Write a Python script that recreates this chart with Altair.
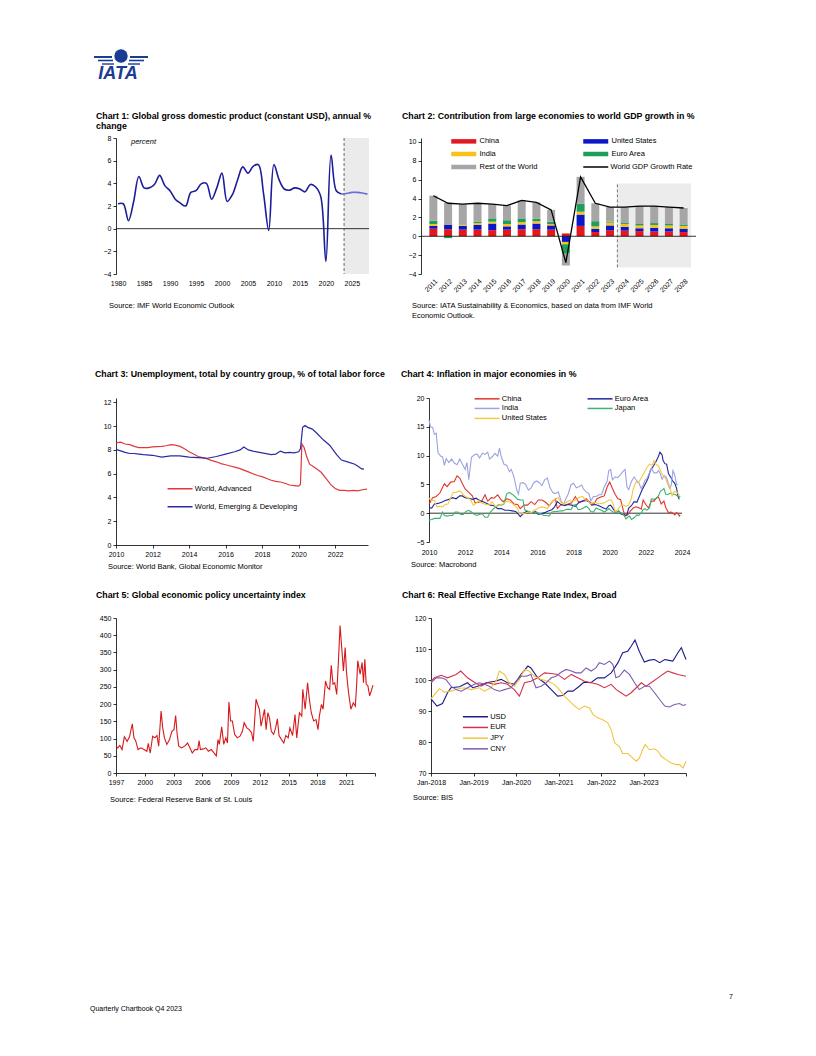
import altair as alt
import pandas as pd

FONT = "Liberation Sans"
FS = 7
NS = 7.5
BAR_SW = "M-5,-0.9H5V0.9H-5Z"
LINE_SW = "M-5,0H5"
ONE = pd.DataFrame({"k": [0]})

# ---------------- Chart 1 data ----------------
c1_years = list(range(1980, 2024))
c1_gdp = [2.2, 2.2, 0.7, 2.4, 4.6, 3.6, 3.6, 3.9, 4.7, 3.8, 3.35, 2.6, 2.25, 2.0, 3.2,
          3.35, 3.95, 4.0, 2.6, 3.6, 4.9, 2.4, 3.0, 4.3, 5.45, 4.9, 5.5, 5.65, 3.1, -0.15,
          5.65, 4.3, 3.5, 3.4, 3.6, 3.5, 3.25, 3.9, 3.7, 2.85, -2.9, 6.5, 3.35, 3.05]
c1_fc_years = [2023, 2024, 2025, 2026, 2027, 2028]
c1_fc = [3.05, 3.1, 3.2, 3.2, 3.15, 3.05]

# ---------------- Chart 2 data ----------------
c2_years = list(range(2011, 2029))
c2_china = [0.8, 0.75, 0.7, 0.7, 0.65, 0.7, 0.75, 0.75, 0.7, 0.3, 1.1, 0.45, 0.65, 0.6, 0.55, 0.5, 0.5, 0.45]
c2_us = [0.3, 0.5, 0.4, 0.5, 0.7, 0.35, 0.5, 0.6, 0.45, -0.6, 1.2, 0.35, 0.5, 0.4, 0.3, 0.4, 0.35, 0.35]
c2_india = [0.2, 0.05, 0.1, 0.2, 0.2, 0.25, 0.25, 0.25, 0.15, -0.25, 0.3, 0.25, 0.3, 0.3, 0.3, 0.3, 0.3, 0.3]
c2_euro = [0.35, -0.2, 0.05, 0.15, 0.35, 0.4, 0.4, 0.25, 0.25, -1.0, 0.85, 0.55, 0.1, 0.1, 0.15, 0.2, 0.15, 0.15]
c2_row = [2.65, 2.25, 2.15, 1.95, 1.5, 1.55, 1.9, 1.75, 1.25, -1.25, 2.85, 1.9, 1.55, 1.7, 1.9, 1.8, 1.8, 1.75]
c2_world = [4.3, 3.5, 3.4, 3.5, 3.4, 3.25, 3.8, 3.6, 2.8, -2.8, 6.3, 3.5, 3.1, 3.1, 3.2, 3.2, 3.1, 3.0]
c2_names = ["China", "United States", "India", "Euro Area", "Rest of the World"]
c2_colors = ["#e3181f", "#0b16c9", "#f6c21b", "#1e9e5a", "#a6a6a6"]
c2_legend_order = ["China", "India", "Rest of the World", "United States", "Euro Area"]

# ---------------- Chart 3 data ----------------
c3_adv_x = [2010.0, 2010.25, 2010.5, 2010.75, 2011.0, 2011.25, 2011.5, 2011.75, 2012.0, 2012.5, 2012.75,
            2013.0, 2013.25, 2013.5, 2013.75, 2014.0, 2014.25, 2014.5, 2014.75, 2015.0, 2015.25, 2015.5,
            2015.75, 2016.0, 2016.25, 2016.5, 2016.75, 2017.0, 2017.25, 2017.5, 2017.75, 2018.0, 2018.25,
            2018.5, 2018.75, 2019.0, 2019.25, 2019.5, 2019.75, 2020.0, 2020.1, 2020.18, 2020.3, 2020.45,
            2020.6, 2020.8, 2021.0, 2021.25, 2021.5, 2021.75, 2022.0, 2022.25, 2022.5, 2022.75, 2023.0,
            2023.25, 2023.5, 2023.75]
c3_adv = [8.6, 8.65, 8.5, 8.45, 8.3, 8.2, 8.2, 8.2, 8.25, 8.3, 8.35, 8.45, 8.4, 8.3, 8.1, 7.85, 7.65,
          7.45, 7.35, 7.25, 7.1, 7.0, 6.85, 6.75, 6.65, 6.55, 6.45, 6.3, 6.15, 6.0, 5.85, 5.75, 5.6,
          5.45, 5.35, 5.3, 5.2, 5.05, 5.0, 4.95, 5.1, 8.5, 8.2, 7.4, 6.8, 6.6, 6.4, 6.1, 5.6, 5.1,
          4.75, 4.6, 4.6, 4.55, 4.6, 4.55, 4.65, 4.7]
c3_emg_x = [2010.0, 2010.5, 2010.75, 2011.0, 2011.25, 2011.5, 2012.0, 2012.5, 2013.0, 2013.5, 2014.0,
            2014.5, 2015.0, 2015.5, 2016.0, 2016.5, 2016.8, 2017.0, 2017.25, 2017.5, 2018.0, 2018.5,
            2018.75, 2019.0, 2019.25, 2019.5, 2019.75, 2020.0, 2020.1, 2020.22, 2020.35, 2020.5, 2020.75,
            2021.0, 2021.35, 2021.7, 2022.08, 2022.35, 2022.72, 2023.08, 2023.27, 2023.45, 2023.58]
c3_emg = [8.05, 7.8, 7.7, 7.7, 7.65, 7.6, 7.55, 7.4, 7.5, 7.5, 7.4, 7.35, 7.3, 7.45, 7.65, 7.85, 8.0,
          8.25, 8.0, 7.9, 7.75, 7.6, 7.65, 7.9, 7.75, 7.8, 7.75, 7.85, 8.1, 9.9, 10.05, 9.9, 9.75,
          9.4, 8.85, 8.4, 7.6, 7.15, 6.97, 6.8, 6.6, 6.4, 6.38]
c3_names = ["World, Advanced", "World, Emerging & Developing"]

# ---------------- Chart 4 data ----------------
c4_china_x = [2010.0, 2010.2, 2010.4, 2010.6, 2010.85, 2011.0, 2011.2, 2011.4, 2011.55, 2011.7, 2011.85,
              2012.0, 2012.2, 2012.4, 2012.55, 2012.75, 2012.9, 2013.1, 2013.25, 2013.45, 2013.6, 2013.8,
              2013.95, 2014.1, 2014.3, 2014.5, 2014.7, 2014.9, 2015.05, 2015.25, 2015.45, 2015.65, 2015.85,
              2016.05, 2016.25, 2016.45, 2016.65, 2016.85, 2017.0, 2017.1, 2017.3, 2017.5, 2017.7, 2017.9,
              2018.1, 2018.3, 2018.5, 2018.7, 2018.9, 2019.1, 2019.3, 2019.5, 2019.7, 2019.85, 2020.0,
              2020.15, 2020.3, 2020.45, 2020.6, 2020.75, 2020.85, 2021.0, 2021.15, 2021.3, 2021.45, 2021.6,
              2021.75, 2021.85, 2022.0, 2022.15, 2022.3, 2022.45, 2022.6, 2022.7, 2022.85, 2023.0, 2023.1,
              2023.25, 2023.4, 2023.5, 2023.6, 2023.7, 2023.8, 2023.85, 2023.9]
c4_china = [1.5, 2.7, 2.9, 3.5, 5.1, 4.6, 5.4, 5.5, 6.5, 6.1, 5.1, 4.2, 3.6, 3.0, 1.8, 1.9, 2.0, 3.2, 2.1,
            2.7, 2.6, 3.2, 2.5, 2.0, 2.5, 2.3, 1.6, 1.5, 0.8, 1.4, 1.4, 2.0, 1.5, 2.3, 2.3, 1.9, 1.3,
            2.1, 2.5, 0.8, 1.5, 1.4, 1.6, 1.8, 2.9, 1.8, 2.1, 2.5, 1.9, 1.5, 2.5, 2.8, 3.0, 4.5, 5.4,
            4.3, 3.3, 2.5, 2.4, 0.5, -0.5, -0.3, 0.4, 0.9, 1.1, 1.0, 0.7, 2.3, 1.5, 0.9, 2.1, 2.1, 2.7,
            2.8, 1.6, 2.1, 1.0, 0.1, 0.2, 0.0, -0.3, 0.1, -0.2, -0.5, -0.3]
c4_euro_x = [2010.0, 2010.15, 2010.3, 2010.5, 2010.7, 2010.9, 2011.1, 2011.3, 2011.5, 2011.7, 2011.85,
             2012.0, 2012.2, 2012.4, 2012.6, 2012.8, 2013.0, 2013.2, 2013.4, 2013.6, 2013.8, 2014.0,
             2014.2, 2014.4, 2014.6, 2014.8, 2014.95, 2015.05, 2015.2, 2015.4, 2015.6, 2015.75, 2015.9,
             2016.05, 2016.2, 2016.4, 2016.6, 2016.8, 2016.95, 2017.1, 2017.3, 2017.5, 2017.7, 2017.9,
             2018.1, 2018.3, 2018.5, 2018.7, 2018.85, 2019.0, 2019.2, 2019.4, 2019.6, 2019.8, 2019.95,
             2020.05, 2020.2, 2020.35, 2020.5, 2020.65, 2020.8, 2020.95, 2021.05, 2021.2, 2021.35, 2021.5,
             2021.65, 2021.8, 2021.95, 2022.1, 2022.25, 2022.4, 2022.55, 2022.7, 2022.78, 2022.9, 2022.95,
             2023.05, 2023.15, 2023.25, 2023.4, 2023.5, 2023.6, 2023.7, 2023.78, 2023.85]
c4_euro = [1.0, 0.9, 1.6, 1.7, 1.9, 2.2, 2.4, 2.7, 2.5, 3.0, 3.0, 2.7, 2.6, 2.4, 2.6, 2.2, 2.0, 1.7, 1.4,
           1.3, 0.8, 0.8, 0.5, 0.5, 0.4, 0.3, -0.2, -0.6, -0.1, 0.3, 0.1, 0.1, 0.3, -0.2, -0.1, 0.1, 0.4,
           0.6, 1.1, 2.0, 1.5, 1.3, 1.5, 1.4, 1.2, 1.9, 2.1, 2.2, 2.0, 1.4, 1.5, 1.3, 1.0, 0.7, 1.3, 1.4,
           0.7, 0.1, 0.4, -0.2, -0.3, -0.3, 0.9, 1.3, 2.0, 1.9, 3.0, 4.1, 5.0, 5.9, 7.4, 8.1, 8.9, 9.9,
           10.6, 10.1, 9.2, 8.6, 8.5, 6.9, 6.1, 5.5, 5.2, 4.3, 2.9, 2.4]
c4_india_x = [2010.0, 2010.08, 2010.2, 2010.3, 2010.4, 2010.5, 2010.65, 2010.75, 2010.85, 2010.95, 2011.1,
              2011.25, 2011.4, 2011.55, 2011.7, 2011.85, 2012.0, 2012.1, 2012.2, 2012.35, 2012.5, 2012.65,
              2012.8, 2012.95, 2013.1, 2013.25, 2013.35, 2013.5, 2013.65, 2013.8, 2013.9, 2014.0, 2014.15,
              2014.3, 2014.45, 2014.55, 2014.7, 2014.85, 2014.95, 2015.05, 2015.2, 2015.35, 2015.5, 2015.65,
              2015.8, 2015.95, 2016.1, 2016.25, 2016.4, 2016.55, 2016.7, 2016.85, 2017.0, 2017.15, 2017.3,
              2017.45, 2017.55, 2017.7, 2017.85, 2018.0, 2018.15, 2018.3, 2018.45, 2018.55, 2018.7, 2018.85,
              2018.95, 2019.1, 2019.25, 2019.4, 2019.55, 2019.7, 2019.85, 2019.95, 2020.05, 2020.15, 2020.3,
              2020.45, 2020.6, 2020.75, 2020.85, 2020.95, 2021.05, 2021.2, 2021.35, 2021.5, 2021.6, 2021.75,
              2021.85, 2021.95, 2022.05, 2022.2, 2022.3, 2022.45, 2022.6, 2022.7, 2022.8, 2022.9, 2023.0,
              2023.1, 2023.2, 2023.3, 2023.4, 2023.5, 2023.58, 2023.7, 2023.78]
c4_india = [16.2, 15.0, 14.9, 13.7, 13.9, 10.5, 9.9, 9.8, 8.3, 9.5, 8.8, 9.4, 8.7, 8.4, 9.4, 8.5, 7.6,
            8.8, 5.8, 9.7, 10.1, 10.3, 9.6, 10.4, 10.2, 10.6, 9.4, 9.8, 10.4, 9.9, 11.3, 9.8, 8.5, 8.3,
            7.2, 7.6, 6.3, 4.1, 3.3, 5.2, 5.3, 5.0, 4.0, 4.4, 5.3, 5.6, 5.3, 4.8, 5.8, 6.1, 4.4, 3.6,
            3.4, 3.7, 2.2, 1.5, 2.4, 3.3, 4.9, 5.2, 4.4, 4.6, 4.9, 4.2, 3.7, 3.4, 2.1, 2.9, 2.9, 3.2,
            3.2, 4.6, 5.5, 7.4, 7.6, 5.8, 6.3, 6.2, 6.7, 7.3, 7.6, 4.6, 4.1, 5.5, 6.3, 5.6, 5.3, 4.3,
            4.9, 5.7, 6.0, 7.0, 7.8, 7.0, 7.0, 7.4, 6.8, 5.9, 6.5, 6.4, 5.7, 4.3, 4.8, 7.4, 6.8, 5.0, 4.9]
c4_jp_x = [2010.0, 2010.15, 2010.3, 2010.45, 2010.6, 2010.75, 2010.85, 2011.0, 2011.15, 2011.3, 2011.45,
           2011.6, 2011.75, 2011.9, 2012.05, 2012.2, 2012.35, 2012.5, 2012.65, 2012.8, 2012.95, 2013.1,
           2013.25, 2013.4, 2013.55, 2013.7, 2013.85, 2014.0, 2014.15, 2014.3, 2014.45, 2014.6, 2014.75,
           2014.9, 2015.05, 2015.2, 2015.3, 2015.45, 2015.6, 2015.75, 2015.9, 2016.05, 2016.2, 2016.35,
           2016.5, 2016.65, 2016.8, 2016.95, 2017.1, 2017.25, 2017.4, 2017.55, 2017.7, 2017.85, 2018.0,
           2018.1, 2018.25, 2018.4, 2018.55, 2018.7, 2018.85, 2018.95, 2019.1, 2019.25, 2019.4, 2019.55,
           2019.7, 2019.85, 2019.95, 2020.1, 2020.25, 2020.35, 2020.5, 2020.65, 2020.8, 2020.9, 2021.0,
           2021.1, 2021.2, 2021.35, 2021.5, 2021.6, 2021.75, 2021.85, 2021.95, 2022.05, 2022.2, 2022.3,
           2022.45, 2022.6, 2022.7, 2022.8, 2022.9, 2023.0, 2023.1, 2023.2, 2023.35, 2023.45, 2023.55,
           2023.65, 2023.75, 2023.85, 2023.9]
c4_jp = [-1.2, -1.1, -0.9, -0.9, -0.9, 0.2, -0.4, -0.5, -0.4, -0.4, 0.2, 0.2, -0.2, -0.2, 0.3, 0.5, 0.2,
         -0.2, -0.4, -0.2, -0.1, -0.7, -0.7, 0.2, 0.7, 1.1, 1.5, 1.4, 1.6, 3.4, 3.6, 3.3, 2.9, 2.4, 2.3,
         2.3, 0.6, 0.4, 0.2, 0.0, 0.2, 0.0, -0.1, -0.4, -0.4, -0.5, 0.2, 0.3, 0.3, 0.4, 0.4, 0.6, 0.7,
         0.6, 1.4, 1.5, 0.6, 0.7, 0.9, 1.2, 0.8, 0.3, 0.2, 0.9, 0.7, 0.5, 0.2, 0.5, 0.8, 0.4, 0.1, 0.1,
         0.3, 0.0, -0.4, -1.0, -0.7, -0.5, -1.1, -0.8, -0.3, -0.4, 0.1, 0.6, 0.8, 0.5, 0.9, 2.5, 2.4,
         2.6, 3.0, 3.8, 4.0, 4.3, 3.3, 3.2, 3.5, 3.3, 3.3, 3.2, 3.0, 2.8, 3.0]
c4_us_x = [2010.0, 2010.15, 2010.3, 2010.45, 2010.6, 2010.75, 2010.9, 2011.05, 2011.2, 2011.35, 2011.5,
           2011.7, 2011.85, 2012.0, 2012.15, 2012.3, 2012.45, 2012.6, 2012.75, 2012.9, 2013.05, 2013.2,
           2013.35, 2013.5, 2013.65, 2013.8, 2013.95, 2014.1, 2014.3, 2014.45, 2014.6, 2014.75, 2014.9,
           2015.0, 2015.15, 2015.3, 2015.5, 2015.65, 2015.8, 2015.95, 2016.1, 2016.25, 2016.4, 2016.55,
           2016.7, 2016.85, 2017.0, 2017.15, 2017.3, 2017.45, 2017.6, 2017.75, 2017.9, 2018.05, 2018.2,
           2018.35, 2018.5, 2018.65, 2018.8, 2018.95, 2019.1, 2019.25, 2019.4, 2019.55, 2019.7, 2019.85,
           2019.95, 2020.1, 2020.2, 2020.3, 2020.45, 2020.6, 2020.75, 2020.9, 2021.05, 2021.2, 2021.3,
           2021.45, 2021.6, 2021.75, 2021.9, 2022.05, 2022.2, 2022.35, 2022.45, 2022.55, 2022.7, 2022.85,
           2022.95, 2023.1, 2023.2, 2023.3, 2023.45, 2023.55, 2023.7, 2023.85]
c4_us = [2.6, 2.2, 2.2, 1.1, 1.2, 1.1, 1.5, 1.6, 2.7, 3.6, 3.6, 3.9, 3.4, 2.9, 2.7, 2.3, 1.4, 1.7, 2.2,
         1.8, 1.6, 1.5, 1.4, 2.0, 1.2, 1.2, 1.5, 1.6, 2.1, 2.0, 1.7, 1.3, 0.8, -0.1, -0.1, 0.0, 0.2,
         0.0, 0.5, 0.7, 1.0, 1.1, 1.0, 0.8, 1.6, 2.1, 2.5, 2.7, 1.9, 1.6, 1.9, 2.2, 2.1, 2.2, 2.5, 2.8,
         2.9, 2.3, 2.2, 1.6, 1.9, 1.8, 1.6, 1.7, 1.8, 2.1, 2.3, 2.3, 1.5, 0.3, 0.6, 1.3, 1.4, 1.2, 1.4,
         2.6, 4.2, 5.4, 5.3, 6.2, 7.0, 7.9, 8.5, 8.3, 9.1, 8.5, 8.2, 7.1, 6.5, 6.0, 5.0, 4.9, 3.0, 3.7,
         3.7, 3.2]
c4_names = ["China", "Euro Area", "India", "Japan", "United States"]
c4_colors = {"China": "#e0352b", "Euro Area": "#1f2a9a", "India": "#9ca3e0",
             "Japan": "#3cb371", "United States": "#f5c842"}
c4_legend_order = ["China", "India", "United States", "Euro Area", "Japan"]

# ---------------- Chart 5 data ----------------
c5_x = [1997.0, 1997.18, 1997.39, 1997.63, 1997.87, 1998.16, 1998.41, 1998.7, 1998.87, 1999.05, 1999.3,
        1999.58, 1999.93, 2000.22, 2000.36, 2000.57, 2000.82, 2001.06, 2001.27, 2001.45, 2001.7, 2001.87,
        2002.05, 2002.3, 2002.58, 2002.83, 2003.04, 2003.22, 2003.36, 2003.54, 2003.82, 2004.17, 2004.46,
        2004.7, 2004.95, 2005.23, 2005.52, 2005.66, 2005.8, 2006.12, 2006.36, 2006.64, 2006.93, 2007.17,
        2007.46, 2007.63, 2007.77, 2008.02, 2008.23, 2008.45, 2008.62, 2008.77, 2008.95, 2009.13, 2009.37,
        2009.65, 2009.93, 2010.18, 2010.36, 2010.64, 2010.89, 2011.13, 2011.31, 2011.6, 2011.77, 2011.95,
        2012.12, 2012.3, 2012.48, 2012.65, 2012.83, 2013.0, 2013.19, 2013.43, 2013.64, 2013.82, 2014.0,
        2014.25, 2014.49, 2014.7, 2014.95, 2015.13, 2015.41, 2015.66, 2015.84, 2016.12, 2016.37, 2016.47,
        2016.72, 2016.97, 2017.18, 2017.36, 2017.6, 2017.85, 2018.06, 2018.2, 2018.42, 2018.59, 2018.84,
        2019.05, 2019.27, 2019.44, 2019.62, 2019.8, 2020.01, 2020.18, 2020.36, 2020.54, 2020.71, 2020.89,
        2021.03, 2021.24, 2021.49, 2021.74, 2021.95, 2022.09, 2022.2, 2022.45, 2022.66, 2022.8, 2022.94,
        2023.08, 2023.26, 2023.44, 2023.61, 2023.79]
c5_epu = [78, 73, 80, 68, 105, 92, 105, 143, 102, 94, 68, 73, 68, 63, 86, 58, 107, 102, 109, 78, 180,
          131, 102, 83, 97, 121, 126, 167, 117, 78, 73, 78, 87, 73, 58, 68, 68, 94, 68, 70, 73, 63, 68,
          60, 50, 97, 83, 134, 83, 102, 87, 206, 151, 151, 112, 102, 107, 121, 146, 131, 126, 117, 92,
          214, 199, 185, 136, 160, 185, 126, 175, 160, 121, 112, 131, 157, 109, 97, 87, 109, 102, 131,
          109, 170, 102, 175, 165, 243, 185, 262, 209, 175, 151, 155, 126, 165, 199, 185, 267, 248, 243,
          313, 258, 262, 228, 321, 428, 360, 296, 364, 292, 233, 185, 204, 194, 258, 326, 287, 321, 262,
          330, 258, 253, 224, 238, 255]

# ---------------- Chart 6 data ----------------
c6_usd_x = [2018.0, 2018.14, 2018.27, 2018.39, 2018.47, 2018.67, 2018.86, 2018.98, 2019.1, 2019.3, 2019.5,
            2019.65, 2019.8, 2019.96, 2020.12, 2020.28, 2020.35, 2020.51, 2020.67, 2020.83, 2020.98, 2021.1,
            2021.22, 2021.34, 2021.49, 2021.6, 2021.76, 2021.92, 2022.08, 2022.24, 2022.4, 2022.51, 2022.63,
            2022.71, 2022.8, 2022.9, 2023.02, 2023.14, 2023.26, 2023.38, 2023.5, 2023.57, 2023.69, 2023.81,
            2023.89, 2024.0]
c6_usd = [93.9, 91.6, 92.4, 95.9, 97.5, 97.8, 99.1, 97.5, 98.0, 99.1, 99.6, 100.2, 99.1, 98.6, 101.8,
          104.5, 103.9, 100.7, 99.1, 96.9, 94.8, 95.0, 96.4, 96.4, 98.0, 99.3, 99.1, 100.7, 100.7, 102.3,
          105.6, 108.8, 109.3, 110.9, 112.9, 109.3, 105.8, 106.4, 106.6, 105.6, 106.6, 106.4, 106.1,
          108.8, 110.4, 106.6]
c6_eur_x = [2018.0, 2018.08, 2018.24, 2018.39, 2018.59, 2018.7, 2018.86, 2019.02, 2019.18, 2019.33, 2019.49,
            2019.65, 2019.8, 2019.96, 2020.08, 2020.2, 2020.35, 2020.51, 2020.67, 2020.83, 2020.98, 2021.14,
            2021.3, 2021.45, 2021.61, 2021.77, 2021.92, 2022.08, 2022.24, 2022.36, 2022.47, 2022.59, 2022.71,
            2022.83, 2022.95, 2023.06, 2023.18, 2023.34, 2023.45, 2023.57, 2023.69, 2023.81, 2024.0]
c6_eur = [99.6, 100.7, 101.5, 100.7, 101.8, 102.9, 100.7, 99.3, 98.0, 99.1, 98.6, 99.1, 98.6, 96.9, 94.8,
          99.1, 99.6, 100.7, 102.3, 102.1, 101.8, 100.2, 101.8, 100.7, 99.6, 99.1, 98.6, 97.5, 98.6, 96.9,
          95.9, 94.8, 95.9, 97.5, 99.1, 98.0, 99.1, 100.7, 101.8, 102.9, 102.3, 101.8, 101.2]
c6_jpy_x = [2018.0, 2018.08, 2018.2, 2018.31, 2018.47, 2018.63, 2018.78, 2018.94, 2019.14, 2019.25, 2019.41,
            2019.53, 2019.61, 2019.73, 2019.84, 2019.96, 2020.08, 2020.2, 2020.31, 2020.43, 2020.59, 2020.75,
            2020.9, 2021.02, 2021.14, 2021.26, 2021.38, 2021.49, 2021.61, 2021.73, 2021.81, 2021.92, 2022.04,
            2022.16, 2022.24, 2022.32, 2022.43, 2022.51, 2022.63, 2022.75, 2022.83, 2022.9, 2022.98, 2023.04,
            2023.14, 2023.26, 2023.34, 2023.42, 2023.53, 2023.65, 2023.77, 2023.85, 2023.93, 2024.0]
c6_jpy = [93.9, 95.3, 97.2, 96.1, 96.4, 97.2, 97.5, 96.9, 97.5, 96.4, 97.5, 99.6, 102.9, 101.8, 99.1,
          98.0, 100.2, 103.4, 102.9, 101.2, 100.2, 99.6, 98.6, 96.9, 94.8, 93.2, 91.6, 90.5, 91.6, 91.0,
          88.9, 87.8, 87.2, 86.2, 84.0, 79.7, 78.6, 76.3, 76.3, 74.8, 73.8, 74.8, 77.5, 79.2, 77.5, 77.8,
          77.0, 75.4, 74.3, 73.2, 72.7, 72.7, 71.6, 73.8]
c6_cny_x = [2018.0, 2018.12, 2018.24, 2018.35, 2018.47, 2018.59, 2018.71, 2018.86, 2019.02, 2019.14,
            2019.26, 2019.37, 2019.49, 2019.61, 2019.73, 2019.88, 2020.0, 2020.12, 2020.24, 2020.35, 2020.47,
            2020.59, 2020.71, 2020.83, 2020.94, 2021.06, 2021.18, 2021.3, 2021.41, 2021.53, 2021.65, 2021.77,
            2021.88, 2021.96, 2022.08, 2022.2, 2022.28, 2022.35, 2022.43, 2022.55, 2022.67, 2022.79, 2022.9,
            2023.02, 2023.14, 2023.26, 2023.38, 2023.5, 2023.61, 2023.73, 2023.85, 2023.93, 2024.0]
c6_cny = [99.1, 100.7, 100.7, 100.2, 98.0, 96.9, 96.4, 97.5, 98.6, 99.1, 98.6, 98.0, 96.9, 96.4, 96.9,
          97.5, 99.6, 101.2, 101.2, 101.8, 97.5, 98.0, 99.1, 100.7, 101.2, 102.5, 103.4, 102.9, 102.3,
          102.3, 103.9, 102.9, 103.9, 105.6, 105.0, 106.1, 105.0, 100.7, 101.2, 103.2, 101.8, 99.1, 96.9,
          98.0, 98.0, 95.9, 93.7, 91.6, 91.3, 92.1, 92.4, 91.8, 92.1]
c6_names = ["USD", "EUR", "JPY", "CNY"]
c6_colors = ["#1c1c8c", "#d6304a", "#f2c53d", "#7f5cb0"]


def note(text, x, y, baseline="middle", **kw):
    return alt.Chart(ONE).mark_text(text=text, align="left", baseline=baseline, fontSize=NS,
                                    font=FONT, color="#000", lineHeight=10, **kw).encode(
        x=alt.value(x), y=alt.value(y))


def long_df(xs_list, ys_list, names):
    rows = []
    for xs, ys, n in zip(xs_list, ys_list, names):
        for a, b in zip(xs, ys):
            rows.append({"x": a, "v": b, "s": n})
    return pd.DataFrame(rows)


def yaxis(vals, **kw):
    return alt.Axis(values=vals, domain=True, ticks=True, tickSize=3, labelPadding=2, grid=False,
                    labelFlush=False, labelOverlap=False, **kw)


def xaxis(vals, domain, ticks, pad, **kw):
    return alt.Axis(values=vals, domain=domain, ticks=ticks, tickSize=3, labelPadding=pad, grid=False,
                    labelFlush=False, labelOverlap=False, **kw)


def line_legend(x, y, **kw):
    return alt.Legend(orient="none", legendX=x, legendY=y, title=None, symbolType=LINE_SW,
                      symbolSize=25, symbolStrokeWidth=1.5, labelOffset=11, **kw)


def sx(field, scale, axis):
    return alt.X(field, type="quantitative", scale=scale, axis=axis, title=None)


def sy(field, scale, axis):
    return alt.Y(field, type="quantitative", scale=scale, axis=axis, title=None)


# ---------------- Chart 1 ----------------
X1 = alt.Scale(domain=[1979.6, 2028.3], nice=False, zero=False)
Y1 = alt.Scale(domain=[-4, 8], nice=False, zero=False)
AX1 = xaxis(list(range(1980, 2030, 5)), False, False, 5, format="d")
AY1 = yaxis(list(range(-4, 10, 2)))
hist1 = alt.Chart(pd.DataFrame({"x": c1_years, "v": c1_gdp})).mark_line(
    interpolate="catmull-rom", color="#1d1d9b", strokeWidth=1.6).encode(
    x=sx("x", X1, AX1), y=sy("v", Y1, AY1))
rect1 = alt.Chart(pd.DataFrame({"x": [2023.5], "b": [2028.3], "v": [-4], "d": [8]})).mark_rect(
    color="#ebebeb").encode(x=sx("x", X1, AX1), x2="b:Q", y=sy("v", Y1, AY1), y2="d:Q")
zero1 = alt.Chart(pd.DataFrame({"v": [0]})).mark_rule(color="#000", strokeWidth=0.8).encode(
    y=sy("v", Y1, AY1))
dash1 = alt.Chart(pd.DataFrame({"x": [2023.5]})).mark_rule(color="#444", strokeDash=[3, 2],
                                                          strokeWidth=0.8).encode(x=sx("x", X1, AX1))
fc1 = alt.Chart(pd.DataFrame({"x": c1_fc_years, "v": c1_fc})).mark_line(
    interpolate="catmull-rom", color="#6b6bdc", strokeWidth=1.6).encode(
    x=sx("x", X1, AX1), y=sy("v", Y1, AY1))
c1 = alt.layer(rect1, zero1, dash1, hist1, fc1,
               note("percent", 15, 4, fontStyle="italic"),
               note("Source: IMF World Economic Outlook", -7, 168)).properties(
    width=253, height=136,
    title=alt.TitleParams(["Chart 1: Global gross domestic product (constant USD), annual %", "change"],
                          dx=-20, offset=3, lineHeight=10.7))

# ---------------- Chart 2 ----------------
X2 = alt.Scale(domain=[2010.5, 2028.5], nice=False, zero=False)
Y2 = alt.Scale(domain=[-4, 10.42], nice=False, zero=False)
AX2 = xaxis(c2_years, False, False, 3, format="d", labelAngle=315)
AY2 = yaxis(list(range(-4, 12, 2)))
rows2 = []
for i, (n, vals) in enumerate(zip(c2_names, [c2_china, c2_us, c2_india, c2_euro, c2_row])):
    for yr, v in zip(c2_years, vals):
        rows2.append({"x": yr, "v": v, "s": n, "o": i})
df2 = pd.DataFrame(rows2)
bars2 = alt.Chart(df2).mark_bar(width=8).encode(
    x=sx("x", X2, AX2),
    y=alt.Y("v:Q", scale=Y2, stack="zero", title=None, axis=AY2),
    color=alt.Color("s:N", scale=alt.Scale(domain=c2_legend_order,
                                           range=[c2_colors[c2_names.index(n)] for n in c2_legend_order]),
                    legend=alt.Legend(orient="none", legendX=39, legendY=-0.75, columns=2, title=None,
                                      symbolType=BAR_SW, symbolSize=25, symbolStrokeWidth=0,
                                      labelOffset=12, columnPadding=45, rowPadding=4)),
    order=alt.Order("o:Q"))
rect2 = alt.Chart(pd.DataFrame({"x": [2023.5], "b": [2028.5], "v": [-3.3], "d": [5.6]})).mark_rect(
    color="#ececec").encode(x=sx("x", X2, AX2), x2="b:Q", y=sy("v", Y2, AY2), y2="d:Q")
dash2 = alt.Chart(pd.DataFrame({"x": [2023.5], "v": [-3.3], "d": [5.6]})).mark_rule(
    color="#555", strokeDash=[3, 2], strokeWidth=0.8).encode(
    x=sx("x", X2, AX2), y=sy("v", Y2, AY2), y2="d:Q")
zero2 = alt.Chart(pd.DataFrame({"v": [0]})).mark_rule(color="#000", strokeWidth=0.8).encode(
    y=sy("v", Y2, AY2))
line2 = alt.Chart(pd.DataFrame({"x": c2_years, "v": c2_world, "s": ["World GDP Growth Rate"] * 18})).mark_line(
    strokeWidth=1.3).encode(
    x=sx("x", X2, AX2), y=sy("v", Y2, AY2),
    color=alt.Color("s:N", scale=alt.Scale(domain=["World GDP Growth Rate"], range=["#000000"]),
                    legend=line_legend(171, 25.25)))
c2 = alt.layer(rect2, dash2, bars2, zero2, line2,
               note(["Source: IATA Sustainability & Economics, based on data from IMF World",
                     "Economic Outlook."], -9, 164.25, baseline="top")).resolve_scale(
    color="independent").properties(
    width=275, height=136,
    title=alt.TitleParams("Chart 2: Contribution from large economies to world GDP growth in %",
                          dx=-19, offset=16.6))

# ---------------- Chart 3 ----------------
X3 = alt.Scale(domain=[2010, 2023.8], nice=False, zero=False)
Y3 = alt.Scale(domain=[0, 12.37], nice=False, zero=False)
AX3 = xaxis(list(range(2010, 2024, 2)), True, True, 2, format="d")
AY3 = yaxis(list(range(0, 14, 2)))
df3 = long_df([c3_adv_x, c3_emg_x], [c3_adv, c3_emg], c3_names)
c3 = alt.layer(
    alt.Chart(df3).mark_line(strokeWidth=1.2).encode(
        x=sx("x", X3, AX3), y=sy("v", Y3, AY3),
        color=alt.Color("s:N", scale=alt.Scale(domain=c3_names, range=["#e0393b", "#2a2aa5"]),
                        legend=line_legend(60.3, 87, rowPadding=9))),
    note("Source: World Bank, Global Economic Monitor", -8, 168.7)).properties(
    width=252, height=147,
    title=alt.TitleParams("Chart 3: Unemployment, total by country group, % of total labor force",
                          dx=-21, offset=19.3))

# ---------------- Chart 4 ----------------
X4 = alt.Scale(domain=[2010, 2024], nice=False, zero=False)
Y4 = alt.Scale(domain=[-5, 20], nice=False, zero=False)
AX4 = xaxis(list(range(2010, 2026, 2)), False, False, 6, format="d")
AY4 = yaxis(list(range(-5, 25, 5)))
df4 = long_df([c4_china_x, c4_euro_x, c4_india_x, c4_jp_x, c4_us_x],
              [c4_china, c4_euro, c4_india, c4_jp, c4_us], c4_names)
lines4 = alt.Chart(df4).mark_line(strokeWidth=1.1).encode(
    x=sx("x", X4, AX4), y=sy("v", Y4, AY4),
    color=alt.Color("s:N", scale=alt.Scale(domain=c4_legend_order,
                                           range=[c4_colors[n] for n in c4_legend_order]),
                    legend=line_legend(54.3, -3.3, columns=2, columnPadding=37, rowPadding=1)))
zero4 = alt.Chart(pd.DataFrame({"v": [0]})).mark_rule(color="#000", strokeWidth=0.8).encode(
    y=sy("v", Y4, AY4))
c4 = alt.layer(zero4, lines4, note("Source: Macrobond", -18, 166.7)).properties(
    width=253, height=144,
    title=alt.TitleParams("Chart 4: Inflation in major economies in %", dx=-28, offset=15.7))

# ---------------- Chart 5 ----------------
X5 = alt.Scale(domain=[1997, 2024], nice=False, zero=False)
Y5 = alt.Scale(domain=[0, 450], nice=False, zero=False)
AX5 = xaxis(list(range(1997, 2025, 3)), True, True, 2, format="d",
            labelExpr="datum.value >= 2024 ? '' : datum.label")
AY5 = yaxis(list(range(0, 500, 50)))
c5 = alt.layer(
    alt.Chart(pd.DataFrame({"x": c5_x, "v": c5_epu})).mark_line(color="#d7191c", strokeWidth=1.1).encode(
        x=sx("x", X5, AX5), y=sy("v", Y5, AY5)),
    note("Source: Federal Reserve Bank of St. Louis", -6, 181.5)).properties(
    width=259, height=155,
    title=alt.TitleParams("Chart 5: Global economic policy uncertainty index", dx=-20, offset=14.6))

# ---------------- Chart 6 ----------------
X6 = alt.Scale(domain=[2018, 2024], nice=False, zero=False)
Y6 = alt.Scale(domain=[70, 120], nice=False, zero=False)
AX6 = xaxis(list(range(2018, 2025)), True, True, 2,
            labelExpr="datum.value >= 2024 ? '' : 'Jan-' + datum.value")
AY6 = yaxis(list(range(70, 130, 10)))
df6 = long_df([c6_usd_x, c6_eur_x, c6_jpy_x, c6_cny_x], [c6_usd, c6_eur, c6_jpy, c6_cny], c6_names)
c6 = alt.layer(
    alt.Chart(df6).mark_line(strokeWidth=1.1).encode(
        x=sx("x", X6, AX6), y=sy("v", Y6, AY6),
        color=alt.Color("s:N", scale=alt.Scale(domain=c6_names, range=c6_colors),
                        legend=line_legend(40.7, 95, rowPadding=1.7))),
    note("Source: BIS", -18, 179.5)).properties(
    width=255, height=155,
    title=alt.TitleParams("Chart 6: Real Effective Exchange Rate Index, Broad", dx=-29, offset=14.6))

# ---------------- Header / footer ----------------
LOGO = "#1b3c93"


def wing(x1, x2, y, w):
    return alt.Chart(ONE).mark_rule(color=LOGO, strokeWidth=w).encode(
        x=alt.value(x1), x2=alt.value(x2), y=alt.value(y))


header = alt.layer(
    alt.Chart(ONE).mark_point(filled=True, shape="circle", size=180, color=LOGO, opacity=1).encode(
        x=alt.value(5), y=alt.value(11)),
    wing(-22, -4, 12, 2), wing(14, 32, 12, 2),
    wing(-18, -3, 15.5, 1.6), wing(13, 28, 15.5, 1.6),
    wing(-14, -2, 19, 1.4), wing(12, 24, 19, 1.4),
    alt.Chart(ONE).mark_text(text="IATA", fontSize=18, fontWeight="bold", fontStyle="italic",
                             color=LOGO, font=FONT).encode(x=alt.value(2), y=alt.value(29)),
).properties(width=36, height=38)

footer = alt.layer(
    alt.Chart(ONE).mark_text(text="7", fontSize=7, font=FONT, align="center", color="#000").encode(
        x=alt.value(615), y=alt.value(4)),
    alt.Chart(ONE).mark_text(text="Quarterly Chartbook Q4 2023", fontSize=7, font=FONT, align="left",
                             color="#000").encode(x=alt.value(-26), y=alt.value(16)),
).properties(width=617, height=20)

row1 = alt.hconcat(c1, c2, spacing=30).resolve_scale(color="independent")
row2 = alt.hconcat(c3, c4, spacing=16).resolve_scale(color="independent")
row3 = alt.hconcat(c5, c6, spacing=26).resolve_scale(color="independent")

inner3 = alt.vconcat(row3, footer, spacing=190).resolve_scale(color="independent")
inner2 = alt.vconcat(row2, inner3, spacing=19).resolve_scale(color="independent")
inner1 = alt.vconcat(row1, inner2, spacing=49).resolve_scale(color="independent")

chart = alt.vconcat(header, inner1, spacing=28).resolve_scale(color="independent").properties(
    padding={"left": 82, "top": 37, "right": 5, "bottom": 5}
).configure_view(stroke=None).configure_axis(
    labelFont=FONT, labelFontSize=FS, labelColor="#000", domainColor="#000", tickColor="#000",
    domainWidth=0.8, tickWidth=0.8, grid=False, labelOverlap=False
).configure_legend(
    labelFont=FONT, labelFontSize=NS, labelColor="#000", padding=0
).configure_title(
    font=FONT, fontSize=8.8, fontWeight="bold", anchor="start", frame="group", color="#000"
)

chart.save("out.html", embed_options={"renderer": "svg", "actions": False})
